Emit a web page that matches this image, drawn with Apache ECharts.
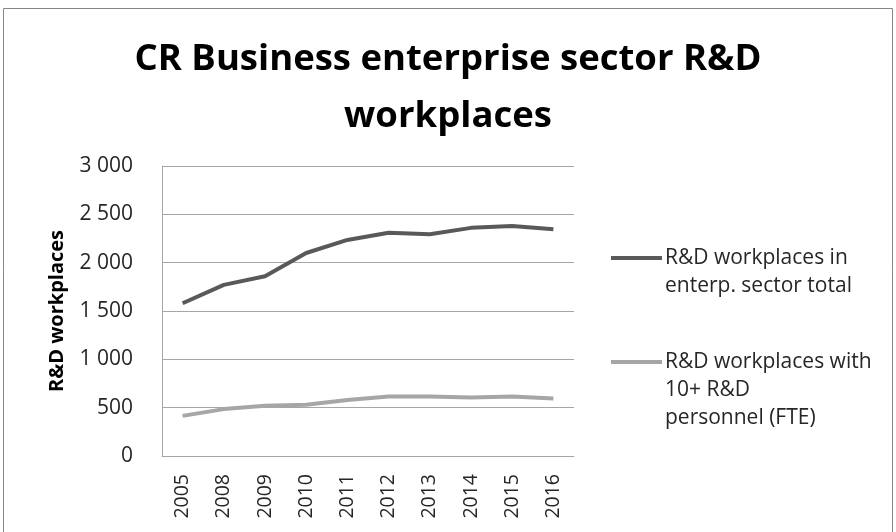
<!DOCTYPE html>
<html>
<head>
<meta charset="utf-8">
<script src="https://cdn.jsdelivr.net/npm/echarts@6/dist/echarts.min.js"></script>
<style>
html,body{margin:0;padding:0;background:#fff;}
#chart{width:896px;height:532px;}
</style>
</head>
<body>
<div id="chart"></div>
<script>
var categories = ['2005','2008','2009','2010','2011','2012','2013','2014','2015','2016'];
var totalWorkplaces = [1580,1770,1860,2100,2235,2310,2295,2360,2380,2345];
var tenPlusWorkplaces = [415,485,520,530,580,615,615,605,615,595];
var seriesNames = ['R&D workplaces in enterp. sector total','R&D workplaces with 10+ R&D personnel (FTE)'];
var legendLines = [['R&D workplaces in','enterp. sector total'],['R&D workplaces with','10+ R&D','personnel (FTE)']];

var font = '"Open Sans", Lato, sans-serif';
var darkColor = '#595959';
var lightColor = '#a6a6a6';

var chart = echarts.init(document.getElementById('chart'), null, {renderer:'canvas'});

function fmt(v){ return String(v).replace(/\B(?=(\d{3})+(?!\d))/g,' '); }

var legendGraphics = [];
var legendTop = [258, 362];
var colors = [darkColor, lightColor];
legendLines.forEach(function(lines, i){
  legendGraphics.push({
    type:'line', shape:{x1:611,y1:legendTop[i],x2:662,y2:legendTop[i]},
    style:{stroke:colors[i], lineWidth:4}
  });
  legendGraphics.push({
    type:'text', x:665, y:legendTop[i]-14,
    style:{text:lines.join('\n'), font:'21px '+font, fill:'#262626', lineHeight:28, verticalAlign:'top'}
  });
});

chart.setOption({
  animation:false,
  backgroundColor:'#fff',
  title:{
    text:'CR Business enterprise sector R&D\nworkplaces',
    left:'center', top:26,
    textStyle:{fontFamily:font, fontWeight:'bold', fontSize:36.5, color:'#000', lineHeight:57}
  },
  grid:{left:162, right:322, top:166, bottom:76, containLabel:false},
  xAxis:{
    type:'category', data:categories, boundaryGap:true,
    axisLine:{lineStyle:{color:'#a6a6a6', width:1}},
    axisTick:{show:false},
    axisLabel:{rotate:90, color:'#262626', fontFamily:font, fontSize:19.5, margin:18}
  },
  yAxis:{
    type:'value', min:0, max:3000, interval:500,
    name:'R&D workplaces', nameLocation:'middle', nameGap:95, nameRotate:90,
    nameTextStyle:{fontFamily:font, fontWeight:'bold', fontSize:20, color:'#000'},
    axisLine:{show:true, lineStyle:{color:'#a6a6a6', width:1}},
    axisTick:{show:false},
    splitLine:{lineStyle:{color:'#a6a6a6', width:1}},
    axisLabel:{color:'#262626', fontFamily:font, fontSize:21, margin:29, formatter:function(v){return fmt(v);}}
  },
  series:[
    {name:seriesNames[0], type:'line', data:totalWorkplaces, symbol:'none', lineStyle:{color:darkColor, width:4}, itemStyle:{color:darkColor}},
    {name:seriesNames[1], type:'line', data:tenPlusWorkplaces, symbol:'none', lineStyle:{color:lightColor, width:4}, itemStyle:{color:lightColor}}
  ],
  graphic:[
    {type:'rect', shape:{x:3.5,y:8.5,width:889,height:530}, style:{fill:null, stroke:'#868686', lineWidth:1}, silent:true}
  ].concat(legendGraphics)
});
</script>
</body>
</html>
